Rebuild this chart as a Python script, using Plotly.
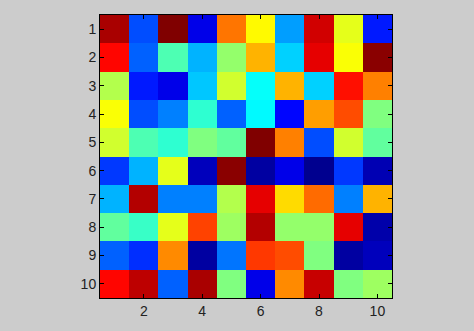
import plotly.graph_objects as go

rows = list(range(1, 11))
cols = list(range(1, 11))

row1 = [0.96, 0.20, 1.00, 0.10, 0.76, 0.63, 0.28, 0.92, 0.60, 0.15]
row2 = [0.87, 0.22, 0.45, 0.30, 0.52, 0.70, 0.33, 0.90, 0.62, 0.99]
row3 = [0.55, 0.15, 0.10, 0.32, 0.58, 0.38, 0.70, 0.33, 0.86, 0.75]
row4 = [0.62, 0.20, 0.25, 0.42, 0.22, 0.37, 0.13, 0.72, 0.80, 0.50]
row5 = [0.58, 0.45, 0.42, 0.50, 0.47, 1.00, 0.75, 0.20, 0.58, 0.47]
row6 = [0.18, 0.30, 0.60, 0.05, 0.99, 0.02, 0.10, 0.00, 0.18, 0.04]
row7 = [0.30, 0.95, 0.25, 0.25, 0.55, 0.90, 0.66, 0.77, 0.25, 0.70]
row8 = [0.47, 0.43, 0.60, 0.81, 0.53, 0.95, 0.52, 0.52, 0.90, 0.03]
row9 = [0.22, 0.17, 0.74, 0.02, 0.24, 0.82, 0.80, 0.50, 0.02, 0.05]
row10 = [0.87, 0.94, 0.22, 0.96, 0.50, 0.10, 0.74, 0.93, 0.50, 0.53]
values = [row1, row2, row3, row4, row5, row6, row7, row8, row9, row10]

x_ticks = [2, 4, 6, 8, 10]
y_ticks = list(range(1, 11))

jet = [
    [0.0, "rgb(0,0,143)"],
    [0.125, "rgb(0,0,255)"],
    [0.375, "rgb(0,255,255)"],
    [0.625, "rgb(255,255,0)"],
    [0.875, "rgb(255,0,0)"],
    [1.0, "rgb(128,0,0)"],
]

fig = go.Figure(go.Heatmap(
    z=values, x=cols, y=rows, colorscale=jet, zmin=0, zmax=1,
    showscale=False, xgap=0, ygap=0,
))

axis_common = dict(
    showline=True, linecolor="black", linewidth=1, mirror="ticks",
    ticks="inside", ticklen=4, tickcolor="black", showgrid=False, zeroline=False,
    tickfont=dict(family="Liberation Sans, Arial", size=14, color="#222222"),
)

fig.update_layout(
    width=474, height=331,
    margin=dict(l=100, r=82, t=15, b=25),
    paper_bgcolor="#cccccc", plot_bgcolor="white",
    xaxis=dict(range=[0.5, 10.5], tickvals=x_ticks, ticktext=[str(v) for v in x_ticks], **axis_common),
    yaxis=dict(range=[10.5, 0.5], tickvals=y_ticks, ticktext=[str(v) for v in y_ticks], **axis_common),
)

fig.write_html("out.html")
